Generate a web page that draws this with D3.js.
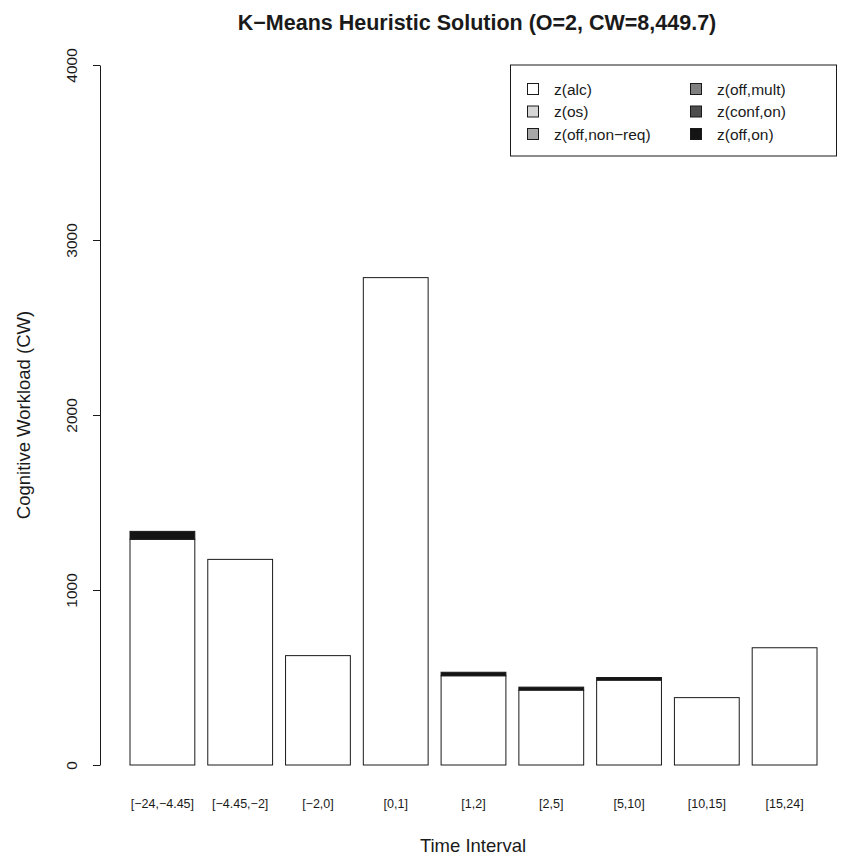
<!DOCTYPE html>
<html>
<head>
<meta charset="utf-8">
<script src="https://cdn.jsdelivr.net/npm/d3@7"></script>
<style>
  html, body { margin: 0; padding: 0; background: #fff; }
  text { font-family: "Liberation Sans", Arial, Helvetica, sans-serif; fill: #1a1a1a; }
</style>
</head>
<body>
<svg id="chart" width="846" height="858"></svg>
<script>
// Time intervals (hours) on the x axis
const categories = ["[\u221224,\u22124.45]", "[\u22124.45,\u22122]", "[\u22122,0]", "[0,1]", "[1,2]", "[2,5]", "[5,10]", "[10,15]", "[15,24]"];

// Workload components, stacked bottom to top
const seriesNames = ["z(alc)", "z(os)", "z(off,non\u2212req)", "z(off,mult)", "z(conf,on)", "z(off,on)"];
const seriesColors = ["#ffffff", "#d6d6d6", "#a8a8a8", "#808080", "#4d4d4d", "#141414"];

const zAlc     = [1290, 1175, 625, 2785, 510, 428, 485, 385, 670];
const zOs      = [0, 0, 0, 0, 0, 0, 0, 0, 0];
const zOffNon  = [0, 0, 0, 0, 0, 0, 0, 0, 0];
const zOffMult = [0, 0, 0, 0, 0, 0, 0, 0, 0];
const zConfOn  = [0, 0, 0, 0, 0, 0, 0, 0, 0];
const zOffOn   = [45, 0, 0, 0, 20, 17, 15, 0, 0];

const yTicks = [0, 1000, 2000, 3000, 4000];

const seriesValues = [zAlc, zOs, zOffNon, zOffMult, zConfOn, zOffOn];
const rows = categories.map((c, i) => {
  const r = { cat: c };
  seriesNames.forEach((s, j) => r[s] = seriesValues[j][i]);
  return r;
});

const svg = d3.select("#chart");

const x = d3.scaleBand()
  .domain(categories)
  .range([130, 817])
  .paddingInner(1 / 6)
  .paddingOuter(0);

const y = d3.scaleLinear().domain([0, 4000]).range([765, 65]);

const stacked = d3.stack().keys(seriesNames)(rows);

// Bars
const layers = svg.append("g").selectAll("g")
  .data(stacked)
  .join("g")
  .attr("fill", (d, i) => seriesColors[i]);

layers.selectAll("rect")
  .data(d => d.filter(p => p[1] - p[0] > 0))
  .join("rect")
  .attr("x", d => x(d.data.cat))
  .attr("y", d => y(d[1]))
  .attr("width", x.bandwidth())
  .attr("height", d => y(d[0]) - y(d[1]))
  .attr("stroke", "#1a1a1a")
  .attr("stroke-width", 1);

// Y axis
const yAxis = svg.append("g")
  .attr("transform", "translate(100,0)")
  .call(d3.axisLeft(y).tickValues(yTicks).tickSize(7).tickSizeOuter(0).tickFormat(d3.format("d")));
yAxis.select(".domain").attr("stroke", "#1a1a1a");
yAxis.selectAll(".tick line").attr("stroke", "#1a1a1a");
yAxis.selectAll(".tick text")
  .attr("x", 0).attr("y", 0).attr("dy", null)
  .attr("transform", "translate(-23,0) rotate(-90)")
  .attr("text-anchor", "middle")
  .style("font-size", "15.5px")
  .attr("fill", "#1a1a1a");

// X category labels
svg.append("g").selectAll("text")
  .data(categories)
  .join("text")
  .attr("x", d => x(d) + x.bandwidth() / 2)
  .attr("y", 808)
  .attr("text-anchor", "middle")
  .style("font-size", "12.5px")
  .text(d => d);

// Axis titles
svg.append("text")
  .attr("x", 473).attr("y", 852)
  .attr("text-anchor", "middle")
  .style("font-size", "18.5px")
  .text("Time Interval");

svg.append("text")
  .attr("transform", "translate(30,415) rotate(-90)")
  .attr("text-anchor", "middle")
  .style("font-size", "18.5px")
  .text("Cognitive Workload (CW)");

// Title
svg.append("text")
  .attr("x", 477).attr("y", 30)
  .attr("text-anchor", "middle")
  .style("font-size", "21.5px")
  .style("font-weight", "bold")
  .text("K\u2212Means Heuristic Solution (O=2, CW=8,449.7)");

// Legend
const legend = svg.append("g");
legend.append("rect")
  .attr("x", 510.5).attr("y", 65)
  .attr("width", 326).attr("height", 91)
  .attr("fill", "#fff")
  .attr("stroke", "#1a1a1a");

const legendItems = legend.selectAll("g.item")
  .data(seriesNames)
  .join("g")
  .attr("class", "item")
  .attr("transform", (d, i) => `translate(${i < 3 ? 527 : 690},${89 + (i % 3) * 22.5})`);

legendItems.append("rect")
  .attr("x", 0.5).attr("y", -5.5)
  .attr("width", 11).attr("height", 11)
  .attr("fill", (d, i) => seriesColors[i])
  .attr("stroke", "#1a1a1a");

legendItems.append("text")
  .attr("x", 27).attr("y", 5.5)
  .style("font-size", "15.5px")
  .text(d => d);
</script>
</body>
</html>
